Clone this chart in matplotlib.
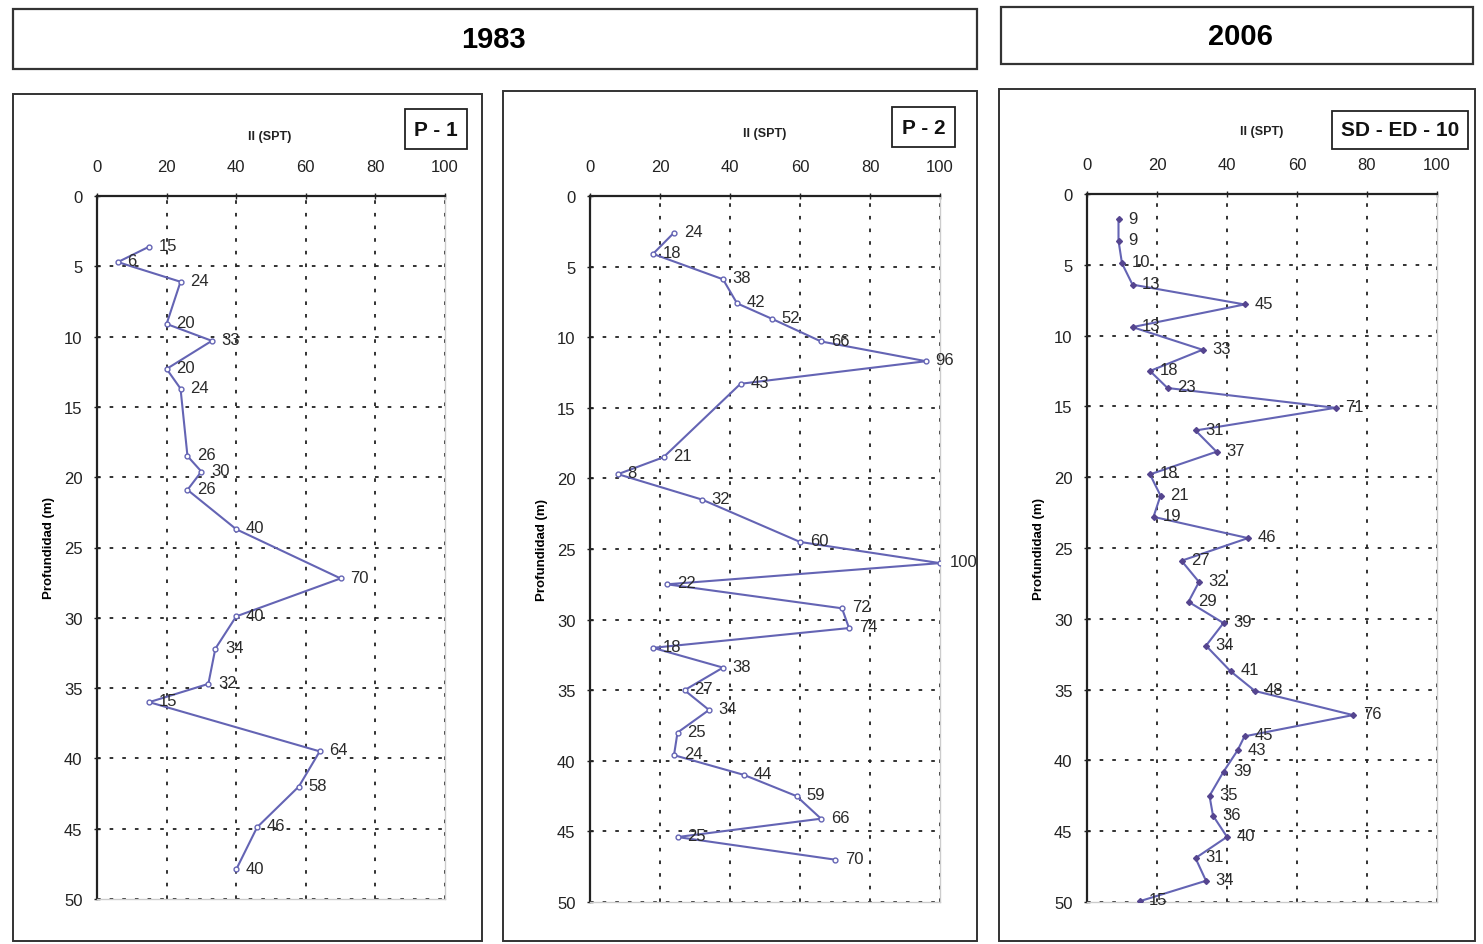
import matplotlib.pyplot as plt
from matplotlib.patches import Rectangle

# ---- Datos de ensayos SPT (N, profundidad en m) ----
p1_n = [15, 6, 24, 20, 33, 20, 24, 26, 30, 26, 40, 70, 40, 34, 32, 15, 64, 58, 46, 40]
p1_z = [3.6, 4.7, 6.1, 9.1, 10.3, 12.3, 13.7, 18.5, 19.6, 20.9, 23.7, 27.2, 29.9,
        32.2, 34.7, 36.0, 39.5, 42.0, 44.9, 47.9]

p2_n = [24, 18, 38, 42, 52, 66, 96, 43, 21, 8, 32, 60, 100, 22, 72, 74, 18, 38, 27,
        34, 25, 24, 44, 59, 66, 25, 70]
p2_z = [2.6, 4.1, 5.9, 7.6, 8.7, 10.3, 11.7, 13.3, 18.5, 19.7, 21.5, 24.5, 26.0, 27.5,
        29.2, 30.6, 32.0, 33.4, 35.0, 36.4, 38.0, 39.6, 41.0, 42.5, 44.1, 45.4, 47.0]

sd_n = [9, 9, 10, 13, 45, 13, 33, 18, 23, 71, 31, 37, 18, 21, 19, 46, 27, 32, 29, 39,
        34, 41, 48, 76, 45, 43, 39, 35, 36, 40, 31, 34, 15]
sd_z = [1.8, 3.3, 4.9, 6.4, 7.8, 9.4, 11.0, 12.5, 13.7, 15.1, 16.7, 18.2, 19.8, 21.3,
        22.8, 24.3, 25.9, 27.4, 28.8, 30.3, 31.9, 33.7, 35.1, 36.8, 38.3, 39.3, 40.8,
        42.5, 43.9, 45.4, 46.9, 48.5, 49.95]

x_ticks = [0, 20, 40, 60, 80, 100]
y_ticks = [0, 5, 10, 15, 20, 25, 30, 35, 40, 45, 50]

W, H = 1483, 945
plt.rcParams['font.family'] = ['Liberation Sans Narrow', 'Liberation Sans', 'DejaVu Sans']

fig = plt.figure(figsize=(W / 100, H / 100), dpi=100)
fig.patch.set_facecolor('white')


def caja(x0, y0, x1, y1):
    # rectangulo [left, bottom, width, height] en fracciones de figura
    return [x0 / W, 1 - y1 / H, (x1 - x0) / W, (y1 - y0) / H]


def marco(x0, y0, x1, y1, lw=1.6, color='#333333'):
    r = Rectangle((x0 / W, 1 - y1 / H), (x1 - x0) / W, (y1 - y0) / H,
                  transform=fig.transFigure, fill=False, lw=lw, edgecolor=color)
    fig.patches.append(r)


# ---- Encabezados de año ----
marco(13, 10, 977, 70)
marco(1001, 8, 1473, 65)
fig.text(493 / W, 1 - 40 / H, '1983', ha='center', va='center',
         fontsize=21, fontweight='bold', family='Liberation Sans')
fig.text(1240 / W, 1 - 37 / H, '2006', ha='center', va='center',
         fontsize=21, fontweight='bold', family='Liberation Sans')

# ---- Marcos de cada sondeo ----
marco(13, 95, 482, 942, lw=1.4)
marco(503, 92, 977, 942, lw=1.4)
marco(999, 90, 1475, 942, lw=1.4)

paneles = [
    dict(n=p1_n, z=p1_z, ax=(97, 197, 445, 900), nombre='P - 1',
         etiqueta=(405, 110, 467, 150), titulo=(270, 137), marker='o'),
    dict(n=p2_n, z=p2_z, ax=(590, 197, 940, 903), nombre='P - 2',
         etiqueta=(892, 108, 955, 148), titulo=(765, 134), marker='o'),
    dict(n=sd_n, z=sd_z, ax=(1087, 195, 1437, 903), nombre='SD - ED - 10',
         etiqueta=(1332, 112, 1468, 150), titulo=(1262, 132), marker='D'),
]

c_linea = '#6464b4'

for p in paneles:
    ax = fig.add_axes(caja(*p['ax']))
    ax.plot(p['n'], p['z'], color=c_linea, lw=1.5, marker=p['marker'],
            markersize=3.5 if p['marker'] == 'o' else 3,
            markerfacecolor='white' if p['marker'] == 'o' else '#55458f',
            markeredgecolor=c_linea if p['marker'] == 'o' else '#55458f',
            markeredgewidth=1.0, zorder=3)
    for n, z in zip(p['n'], p['z']):
        ax.annotate(str(n), (n, z), xytext=(7, 1), textcoords='offset points',
                    fontsize=12, color='#2a2a2a', va='center', ha='left',
                    annotation_clip=False, zorder=4)

    ax.set_xlim(0, 100)
    ax.set_ylim(50, 0)
    ax.set_xticks(x_ticks)
    ax.set_yticks(y_ticks)
    ax.xaxis.tick_top()
    ax.tick_params(axis='both', labelsize=12, colors='#222222', direction='inout',
                   length=5, width=1.0)
    ax.tick_params(axis='x', pad=13)
    ax.tick_params(axis='y', pad=8)
    ax.grid(True, color='#222222', linestyle=(0, (2, 5)), linewidth=1.3)
    ax.set_axisbelow(True)
    for lado in ['top', 'left']:
        ax.spines[lado].set_color('#222222')
        ax.spines[lado].set_linewidth(1.6)
    for lado in ['right', 'bottom']:
        ax.spines[lado].set_color('#cccccc')
        ax.spines[lado].set_linewidth(1.0)

    ax.set_ylabel('Profundidad (m)', fontsize=9.5, fontweight='bold',
                  family='Liberation Sans', labelpad=6)

    tx, ty = p['titulo']
    fig.text(tx / W, 1 - ty / H, 'II (SPT)', ha='center', va='center',
             fontsize=9, fontweight='bold', family='Liberation Sans', color='#222222')

    ex0, ey0, ex1, ey1 = p['etiqueta']
    marco(ex0, ey0, ex1, ey1, lw=1.3, color='#222222')
    fig.text((ex0 + ex1) / 2 / W, 1 - (ey0 + ey1) / 2 / H, p['nombre'],
             ha='center', va='center', fontsize=15, fontweight='bold',
             family='Liberation Sans', color='#111111')

fig.savefig('out.png', dpi=100, facecolor='white')
